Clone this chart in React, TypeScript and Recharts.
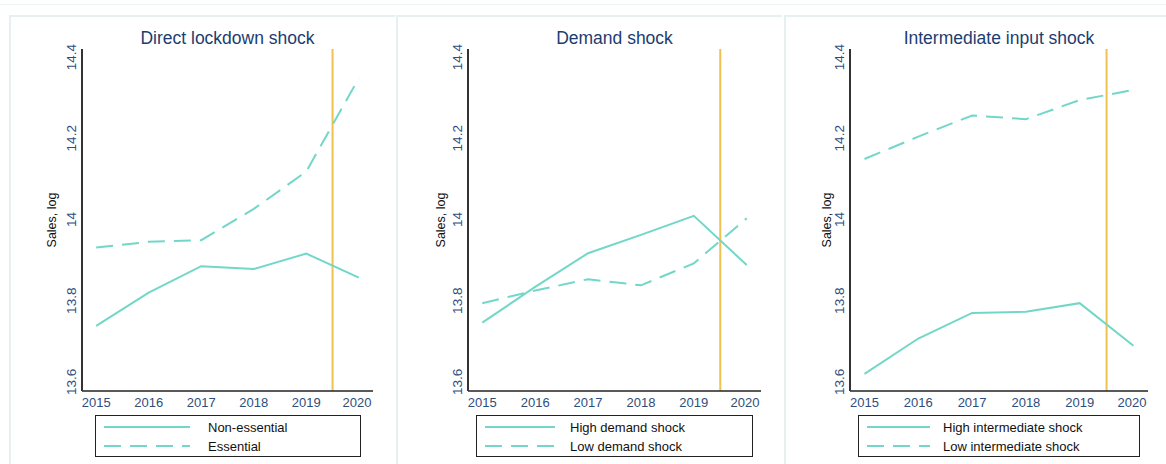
import React from 'react';
import { LineChart, Line, XAxis, YAxis, ReferenceLine } from 'recharts';

const years = [2015, 2016, 2017, 2018, 2019, 2020];
const yTicks = [13.6, 13.8, 14, 14.2, 14.4];

const nonEssential = [13.738, 13.82, 13.885, 13.878, 13.916, 13.857];
const essential = [13.931, 13.945, 13.949, 14.026, 14.118, 14.348];
const highDemand = [13.746, 13.834, 13.917, 13.962, 14.009, 13.888];
const lowDemand = [13.794, 13.825, 13.853, 13.838, 13.892, 14.003];
const highIntermediate = [13.62, 13.707, 13.77, 13.773, 13.794, 13.689];
const lowIntermediate = [14.149, 14.204, 14.256, 14.247, 14.294, 14.319];

const titles = ['Direct lockdown shock', 'Demand shock', 'Intermediate input shock'];
const solidNames = ['Non-essential', 'High demand shock', 'High intermediate shock'];
const dashedNames = ['Essential', 'Low demand shock', 'Low intermediate shock'];

const TEAL = '#72d7c8';
const GOLD = '#efc14f';
const NAVY = '#1c3d6f';
const TICK = '#2e4d7d';
const FONT = '"Liberation Sans", Arial, sans-serif';
const DASH = '17 9';

const PLOT_TOP = 49;
const PLOT_BOTTOM = 391;
const Y_AXIS_W = 60;
const X_AXIS_H = 30;

// per-panel geometry
const panels = [
  { frame: 9, axisX: 82, right: 373, labelOff: 26, legend: { x: 95, w: 266, lineW: 86, gap: 18 }, solid: nonEssential, dashed: essential },
  { frame: 396, axisX: 468, right: 761, labelOff: 23, legend: { x: 476, w: 277, lineW: 70, gap: 15 }, solid: highDemand, dashed: lowDemand },
  { frame: 784, axisX: 850, right: 1148, labelOff: 19, legend: { x: 858, w: 282, lineW: 63, gap: 13 }, solid: highIntermediate, dashed: lowIntermediate },
];

const YTick = ({ x, y, payload }: any) => {
  const tx = x - 5.5;
  return (
    <text x={tx} y={y} transform={`rotate(-90 ${tx} ${y})`} textAnchor="middle" fill={TICK} fontSize={13.5} fontFamily={FONT}>
      {payload.value}
    </text>
  );
};

const XTick = ({ x, y, payload }: any) => (
  <text x={x} y={y + 15.5} textAnchor="middle" fill={TICK} fontSize={13} fontFamily={FONT}>
    {payload.value}
  </text>
);

const LegendRow = ({ top, label, dashed, lineW, gap }: any) => (
  <div style={{ position: 'absolute', left: 8, top, height: 18, display: 'flex', alignItems: 'center' }}>
    <svg width={lineW} height={18}>
      <line x1={0} y1={9} x2={lineW} y2={9} stroke={TEAL} strokeWidth={2} strokeDasharray={dashed ? DASH : undefined} />
    </svg>
    <span style={{ marginLeft: gap, fontSize: 13, fontFamily: FONT, color: '#111', whiteSpace: 'nowrap' }}>{label}</span>
  </div>
);

const Panel = ({ idx }: { idx: number }) => {
  const p = panels[idx];
  const rows = years.map((year, i) => ({ year, solid: p.solid[i], dashed: p.dashed[i] }));
  const chartLeft = p.axisX - Y_AXIS_W;
  const width = p.right - chartLeft;
  const plotCenter = (p.axisX + p.right) / 2;

  return (
    <>
      <div
        style={{
          position: 'absolute',
          left: p.frame,
          top: 15,
          width: idx === 2 ? 1166 - p.frame : 386,
          height: 460,
          borderLeft: '2px solid #e7f0f0',
          borderTop: '2px solid #e7f0f0',
          boxSizing: 'border-box',
        }}
      />
      <div
        style={{
          position: 'absolute',
          left: plotCenter - 150,
          width: 300,
          top: 28,
          textAlign: 'center',
          fontSize: 17.5,
          lineHeight: '20px',
          fontFamily: FONT,
          color: NAVY,
        }}
      >
        {titles[idx]}
      </div>
      <div style={{ position: 'absolute', left: chartLeft, top: 0 }}>
        <LineChart
          width={width}
          height={464}
          data={rows}
          margin={{ top: PLOT_TOP, right: 0, bottom: 464 - PLOT_BOTTOM - X_AXIS_H, left: 0 }}
        >
          <XAxis
            dataKey="year"
            type="number"
            domain={[2014.73, 2020.27]}
            ticks={years}
            height={X_AXIS_H}
            tickSize={0}
            tickMargin={0}
            tickLine={false}
            axisLine={{ stroke: '#222', strokeWidth: 1.5 }}
            tick={<XTick />}
            allowDataOverflow
          />
          <YAxis
            type="number"
            domain={[13.5778, 14.4197]}
            ticks={yTicks}
            width={Y_AXIS_W}
            tickSize={0}
            tickMargin={0}
            tickLine={false}
            axisLine={{ stroke: '#333', strokeWidth: 2 }}
            tick={<YTick />}
            allowDataOverflow
            label={{
              content: ({ viewBox }: any) => {
                const lx = viewBox.x + viewBox.width - p.labelOff;
                const ly = viewBox.y + viewBox.height / 2;
                return (
                  <text x={lx} y={ly} transform={`rotate(-90 ${lx} ${ly})`} textAnchor="middle" fontSize={12.5} fontFamily={FONT} fill="#111">
                    Sales, log
                  </text>
                );
              },
            }}
          />
          <ReferenceLine x={2019.5} stroke={GOLD} strokeWidth={2} ifOverflow="visible" />
          <Line dataKey="solid" stroke={TEAL} strokeWidth={2} dot={false} isAnimationActive={false} type="linear" />
          <Line dataKey="dashed" stroke={TEAL} strokeWidth={2} strokeDasharray={DASH} dot={false} isAnimationActive={false} type="linear" />
        </LineChart>
      </div>
      <div
        style={{
          position: 'absolute',
          left: p.legend.x,
          top: 415,
          width: p.legend.w,
          height: 42,
          border: '1.5px solid #222',
          boxSizing: 'border-box',
        }}
      >
        <LegendRow top={2} label={solidNames[idx]} dashed={false} lineW={p.legend.lineW} gap={p.legend.gap} />
        <LegendRow top={21} label={dashedNames[idx]} dashed lineW={p.legend.lineW} gap={p.legend.gap} />
      </div>
    </>
  );
};

export default function App() {
  return (
    <div style={{ position: 'absolute', left: 0, top: 0, width: 1166, height: 464, background: '#fff', overflow: 'hidden' }}>
      <div style={{ position: 'absolute', left: 0, top: 4, width: 1166, borderTop: '1px solid #eef3f3' }} />
      {panels.map((_, i) => (
        <Panel key={i} idx={i} />
      ))}
    </div>
  );
}
